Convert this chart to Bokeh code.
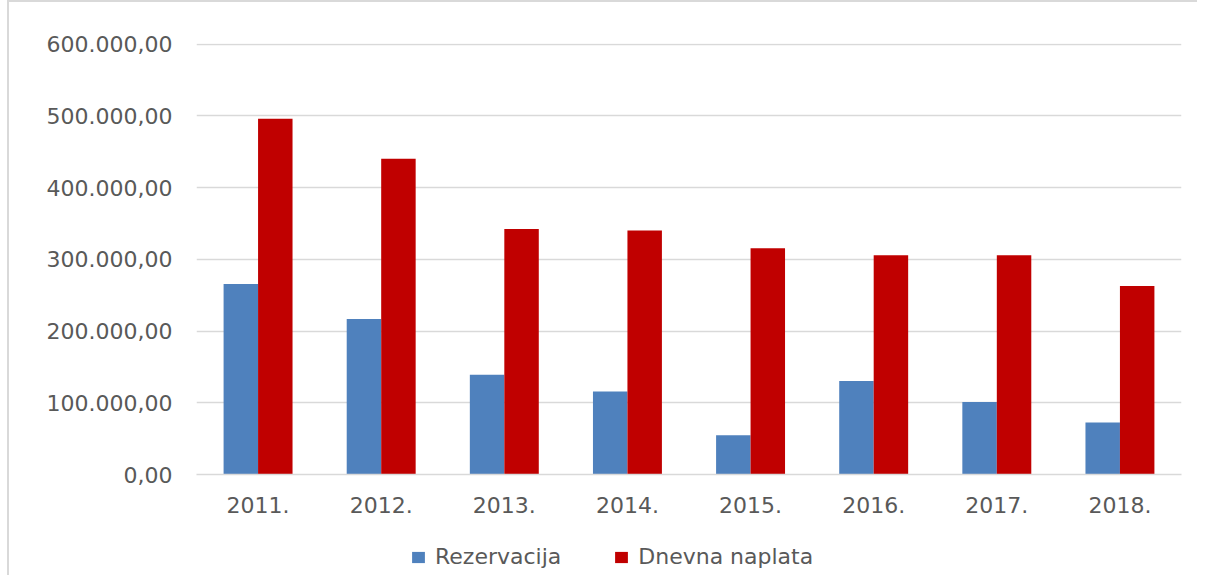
from bokeh.plotting import figure
from bokeh.models import ColumnDataSource, FactorRange, Range1d, FixedTicker, Legend, LegendItem, Spacer
from bokeh.layouts import column, row
from bokeh.transform import dodge
from bokeh.embed import file_html
from bokeh.resources import INLINE

years = ["2011.", "2012.", "2013.", "2014.", "2015.", "2016.", "2017.", "2018."]
rezervacija = [265600, 216800, 139200, 115700, 54600, 130200, 101100, 72400]
dnevna_naplata = [496000, 440000, 342300, 340300, 315500, 305600, 305600, 262800]
y_ticks = [0, 100000, 200000, 300000, 400000, 500000, 600000]
y_tick_labels = ["0,00", "100.000,00", "200.000,00", "300.000,00", "400.000,00", "500.000,00", "600.000,00"]
series_names = ["Rezervacija", "Dnevna naplata"]
series_colors = ["#4f81bd", "#c00000"]

FONT = "DejaVu Sans"
TXT = "#595959"

src = ColumnDataSource(dict(year=years, rez=rezervacija, dn=dnevna_naplata))

# ---- main chart ----
p = figure(x_range=FactorRange(factors=years, range_padding=0),
           y_range=Range1d(0, 600800),
           width=1190, height=513, output_backend="svg", toolbar_location=None,
           min_border_left=187, min_border_right=18, min_border_top=41, min_border_bottom=10)
p.outline_line_color = None

p.vbar(x=dodge("year", -0.14, range=p.x_range), top="rez", width=0.28, source=src,
       fill_color=series_colors[0], line_color=None)
p.vbar(x=dodge("year", 0.14, range=p.x_range), top="dn", width=0.28, source=src,
       fill_color=series_colors[1], line_color=None)

p.yaxis.ticker = FixedTicker(ticks=y_ticks)
p.yaxis.major_label_overrides = {t: l for t, l in zip(y_ticks, y_tick_labels)}
p.yaxis.axis_line_color = None
p.yaxis.major_tick_line_color = None
p.yaxis.minor_tick_line_color = None
p.yaxis.major_label_standoff = 18
p.yaxis.major_label_text_font = FONT
p.yaxis.major_label_text_font_size = "22px"
p.yaxis.major_label_text_color = TXT

p.xaxis.axis_line_color = "#d9d9d9"
p.xaxis.axis_line_width = 1.5
p.xaxis.major_tick_line_color = None
p.xaxis.minor_tick_line_color = None
p.xaxis.major_label_standoff = 16
p.xaxis.major_label_text_font = FONT
p.xaxis.major_label_text_font_size = "22px"
p.xaxis.major_label_text_color = TXT

p.xgrid.grid_line_color = None
p.ygrid.grid_line_color = "#d9d9d9"
p.ygrid.grid_line_width = 1.5
p.styles = {"border-left": "2px solid #d9d9d9", "border-top": "2px solid #d9d9d9"}

# ---- legend strip ----
p2 = figure(x_range=Range1d(0, 1), y_range=Range1d(0, 1), width=1190, height=62,
            output_backend="svg", toolbar_location=None,
            min_border_left=0, min_border_right=0, min_border_top=0, min_border_bottom=0)
p2.axis.visible = False
p2.grid.visible = False
p2.outline_line_color = None
p2.styles = {"border-left": "2px solid #d9d9d9"}
# swatch-only renderers, kept outside the visible range
lr1 = p2.vbar(x=[-5], top=[-5], width=0.1, fill_color=series_colors[0], line_color=None)
lr2 = p2.vbar(x=[-5], top=[-5], width=0.1, fill_color=series_colors[1], line_color=None)

legend = Legend(items=[LegendItem(label=series_names[0], renderers=[lr1]),
                       LegendItem(label=series_names[1], renderers=[lr2])],
                orientation="horizontal", location=(401, 6))
legend.border_line_color = None
legend.background_fill_alpha = 0
legend.label_text_font = FONT
legend.label_text_font_size = "22px"
legend.label_text_color = TXT
legend.glyph_width = 16
legend.glyph_height = 14
legend.label_standoff = 9
legend.spacing = 52
legend.margin = 0
legend.padding = 0
p2.add_layout(legend)

lay = column(row(Spacer(width=7), p), row(Spacer(width=7), p2))

open("out.html", "w").write(file_html(lay, INLINE))
